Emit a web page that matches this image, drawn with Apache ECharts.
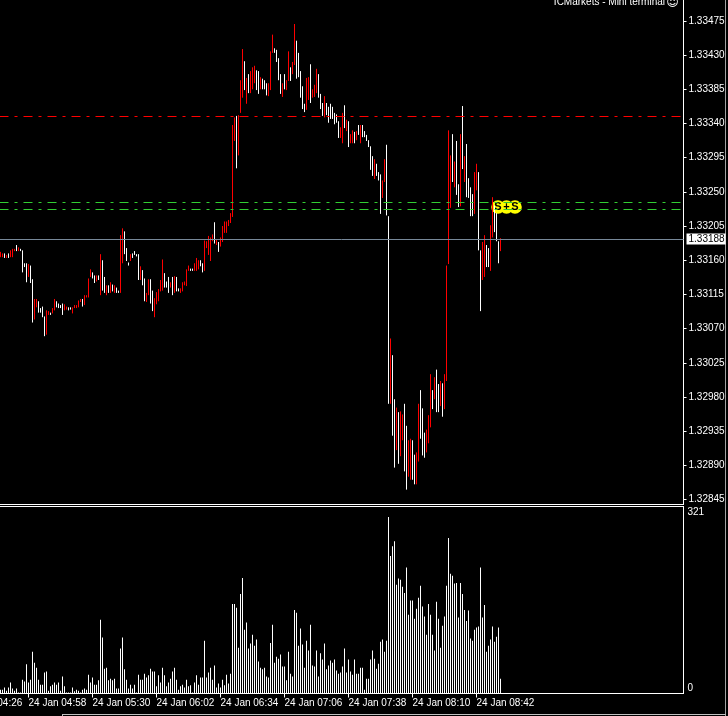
<!DOCTYPE html>
<html><head><meta charset="utf-8">
<script src="https://cdn.jsdelivr.net/npm/echarts@6/dist/echarts.min.js"></script>
<style>html,body{margin:0;padding:0;background:#000;overflow:hidden}#c{width:728px;height:716px}</style>
</head><body><div id="c"></div>
<script>
// ---- data ----
const firstBarTime = [4, 44];       // 24 Jan 04:44, one bar per minute
const slotCount = 342;              // minute slots shown across the chart
const datePrefix = '24 Jan ';
const timeTicks = ['04:58','05:30','06:02','06:34','07:06','07:38','08:10','08:42'];
const hiddenTick = '04:26';
const highs = [
1.33171,1.33169,1.33169,1.33167,1.33169,1.33173,1.33175,1.33175,1.33180,1.33177,
1.33175,1.33173,1.33156,1.33156,1.33155,1.33153,1.33135,1.33109,1.33109,1.33106,
1.33097,1.33099,1.33086,1.33094,1.33093,1.33091,1.33097,1.33109,1.33106,1.33103,
1.33101,1.33103,1.33102,1.33099,1.33098,1.33098,1.33098,1.33101,1.33101,1.33107,
1.33109,1.33109,1.33114,1.33114,1.33136,1.33148,1.33144,1.33140,1.33140,1.33140,
1.33168,1.33160,1.33138,1.33127,1.33127,1.33131,1.33128,1.33127,1.33124,1.33120,
1.33193,1.33202,1.33198,1.33176,1.33157,1.33168,1.33169,1.33172,1.33168,1.33168,
1.33152,1.33147,1.33136,1.33117,1.33135,1.33135,1.33120,1.33110,1.33118,1.33122,
1.33134,1.33161,1.33143,1.33132,1.33138,1.33131,1.33138,1.33139,1.33138,1.33123,
1.33123,1.33131,1.33132,1.33148,1.33153,1.33149,1.33149,1.33156,1.33163,1.33160,
1.33160,1.33156,1.33186,1.33185,1.33192,1.33190,1.33194,1.33210,1.33188,1.33184,
1.33190,1.33205,1.33211,1.33211,1.33213,1.33222,1.33338,1.33348,1.33350,1.33351,
1.33397,1.33438,1.33422,1.33400,1.33405,1.33409,1.33414,1.33416,1.33410,1.33409,
1.33401,1.33399,1.33397,1.33393,1.33393,1.33435,1.33457,1.33439,1.33437,1.33426,
1.33405,1.33393,1.33405,1.33397,1.33435,1.33414,1.33421,1.33471,1.33449,1.33433,
1.33409,1.33389,1.33366,1.33400,1.33401,1.33418,1.33385,1.33391,1.33412,1.33405,
1.33379,1.33367,1.33376,1.33367,1.33362,1.33366,1.33362,1.33354,1.33352,1.33343,
1.33335,1.33354,1.33364,1.33345,1.33343,1.33326,1.33331,1.33329,1.33330,1.33338,
1.33338,1.33338,1.33330,1.33325,1.33318,1.33310,1.33297,1.33293,1.33287,1.33276,
1.33273,1.33265,1.33293,1.33312,1.33218,1.33057,1.33035,1.32977,1.32966,1.32960,
1.32961,1.32957,1.32971,1.32942,1.32923,1.32925,1.32923,1.32904,1.32907,1.32971,
1.32989,1.32965,1.32933,1.32937,1.32956,1.33010,1.32989,1.33006,1.33016,1.32997,
1.33001,1.32998,1.33010,1.33153,1.33331,1.33298,1.33326,1.33290,1.33317,1.33260,
1.33326,1.33363,1.33297,1.33313,1.33268,1.33256,1.33247,1.33276,1.33287,1.33276,
1.33173,1.33184,1.33193,1.33180,1.33176,1.33206,1.33243,1.33232,1.33222,1.33185,
1.33189];
const lows = [
1.33164,1.33164,1.33163,1.33163,1.33163,1.33164,1.33164,1.33172,1.33172,1.33172,
1.33172,1.33144,1.33151,1.33131,1.33138,1.33130,1.33078,1.33082,1.33098,1.33091,
1.33091,1.33085,1.33060,1.33062,1.33088,1.33088,1.33090,1.33094,1.33098,1.33097,
1.33097,1.33088,1.33094,1.33095,1.33094,1.33095,1.33090,1.33097,1.33097,1.33098,
1.33105,1.33099,1.33101,1.33111,1.33111,1.33138,1.33136,1.33130,1.33132,1.33134,
1.33114,1.33120,1.33117,1.33114,1.33117,1.33117,1.33119,1.33117,1.33117,1.33117,
1.33117,1.33156,1.33168,1.33159,1.33153,1.33159,1.33163,1.33167,1.33165,1.33134,
1.33134,1.33127,1.33106,1.33105,1.33114,1.33103,1.33093,1.33085,1.33102,1.33106,
1.33119,1.33120,1.33124,1.33124,1.33117,1.33124,1.33114,1.33117,1.33119,1.33119,
1.33117,1.33119,1.33127,1.33126,1.33146,1.33146,1.33146,1.33146,1.33146,1.33148,
1.33152,1.33144,1.33146,1.33176,1.33167,1.33159,1.33185,1.33182,1.33180,1.33171,
1.33178,1.33184,1.33196,1.33196,1.33205,1.33209,1.33217,1.33317,1.33281,1.33298,
1.33354,1.33374,1.33384,1.33366,1.33380,1.33380,1.33385,1.33393,1.33384,1.33379,
1.33385,1.33385,1.33385,1.33377,1.33376,1.33384,1.33433,1.33433,1.33421,1.33397,
1.33379,1.33375,1.33385,1.33384,1.33396,1.33396,1.33405,1.33417,1.33399,1.33401,
1.33374,1.33359,1.33355,1.33358,1.33371,1.33367,1.33374,1.33375,1.33380,1.33374,
1.33359,1.33350,1.33348,1.33351,1.33341,1.33346,1.33346,1.33339,1.33341,1.33321,
1.33321,1.33314,1.33334,1.33330,1.33309,1.33314,1.33314,1.33314,1.33318,1.33325,
1.33314,1.33322,1.33322,1.33317,1.33309,1.33279,1.33271,1.33267,1.33271,1.33265,
1.33221,1.33242,1.33263,1.33219,1.32971,1.32971,1.32929,1.32887,1.32910,1.32892,
1.32902,1.32923,1.32882,1.32858,1.32875,1.32871,1.32871,1.32865,1.32865,1.32895,
1.32925,1.32903,1.32900,1.32907,1.32919,1.32940,1.32964,1.32977,1.32960,1.32960,
1.32968,1.32954,1.32964,1.33001,1.33155,1.33229,1.33263,1.33256,1.33246,1.33230,
1.33231,1.33280,1.33263,1.33243,1.33242,1.33218,1.33218,1.33221,1.33252,1.33173,
1.33093,1.33134,1.33138,1.33151,1.33151,1.33146,1.33190,1.33197,1.33185,1.33156,
1.33172];
// r = rising bar (drawn red), w = falling bar (drawn white)
const directions =
 'rrwrwrrrwr'+'wwwwrwwrrw'+'wwwrrwrrww'+'wwrrwwrrrr'+'rwrrrrwwrw'+
 'rwwrwrwrww'+'rrwwwrwwww'+'rwwrrwwrrr'+'rrwwwrwrww'+'rrrrrwwrrr'+
 'wwrrrrrwrw'+'rrrrrrrrwr'+'rrwrwrrrww'+'rwwwrrrwww'+'wrwrrwrrww'+
 'wwwrrwrrrw'+'wwrwwwwwww'+'rrwrwrrwrw'+'rwwwwwwrww'+'wrrwwrwwrw'+
 'rrwwrrwwrr'+'wwwrrrwrww'+'rwrrrrwrww'+'rwrwwwwrrw'+'wrrwwrrwww'+'r';
const volumes = [
7,7,11,5,11,20,9,5,9,2, 2,25,22,53,20,25,76,56,47,25,
16,16,38,40,5,13,16,20,16,20, 5,31,13,2,2,2,11,4,7,5,
2,7,9,7,34,20,29,16,16,24, 134,102,45,47,24,27,24,27,9,9,
82,102,44,25,9,16,9,16,2,34, 25,25,36,29,33,45,40,40,13,33,
20,47,33,13,20,27,40,47,25,7, 13,16,11,25,13,15,2,20,33,16,
29,29,96,29,38,47,25,51,11,18, 11,25,15,34,18,36,163,163,156,83,
181,210,116,129,82,91,107,87,98,58, 47,44,47,31,29,92,125,56,67,63,
71,49,49,24,76,36,31,152,147,87, 118,89,47,96,78,125,51,49,78,31,
73,62,91,44,51,60,56,62,42,36, 38,49,82,38,62,40,34,62,36,36,
47,47,7,27,27,62,78,63,45,54, 94,98,76,96,321,250,268,277,198,209,
207,194,183,229,143,169,169,136,154,174, 196,158,140,107,163,143,107,78,167,136,
83,123,140,196,283,218,214,200,201,138, 201,181,152,132,151,100,96,116,120,122,
229,138,161,76,87,98,122,94,103,120, 27];
const priceTicks = [1.32845,1.32890,1.32935,1.32980,1.33025,1.33070,1.33115,1.33160,
  1.33205,1.33250,1.33295,1.33340,1.33385,1.33430,1.33475];
const priceRange = [1.328404, 1.335026];
const volumeMax = 321;
const redLevel = 1.33349;
const greenLevels = [1.33236, 1.33227];
const bidPrice = 1.33188;
const signalText = ['S','+','S'];
const signalAt = [253, 1.33230];
const titleText = 'ICMarkets - Mini terminal';

// ---- build ----
const cats = [];
for (let i = 0; i < slotCount; i++) {
  const m = firstBarTime[0] * 60 + firstBarTime[1] + i;
  cats.push(String(Math.floor(m / 60)).padStart(2, '0') + ':' + String(m % 60).padStart(2, '0'));
}
const candles = highs.map((h, i) => directions[i] === 'r' ? [lows[i], h, lows[i], h] : [h, lows[i], lows[i], h]);

const FONT = "'Liberation Sans',sans-serif";
const FS = 10;
const isTick = (idx, val) => timeTicks.indexOf(val) >= 0;
const dashDot = [9, 6, 3, 6];

const chart = echarts.init(document.getElementById('c'), null, {renderer: 'canvas'});
chart.setOption({
  backgroundColor: '#000',
  animation: false,
  grid: [
    {left: -0.5, width: 684, top: 0, height: 503, outerBoundsMode: 'none', containLabel: false},
    {left: -0.5, width: 684, top: 517, height: 176.5, outerBoundsMode: 'none', containLabel: false}
  ],
  xAxis: [
    {type: 'category', gridIndex: 0, data: cats, boundaryGap: true, show: false},
    {type: 'category', gridIndex: 1, data: cats, boundaryGap: true,
     axisLine: {show: false},
     axisTick: {show: true, interval: isTick, alignWithLabel: true, length: 4, lineStyle: {color: '#fff', width: 1}},
     axisLabel: {interval: isTick, formatter: v => datePrefix + v, color: '#fff', fontFamily: FONT, fontSize: FS,
                 align: 'left', margin: 5},
     splitLine: {show: false}}
  ],
  yAxis: [
    {type: 'value', gridIndex: 0, position: 'right', min: priceRange[0], max: priceRange[1], scale: true,
     splitLine: {show: false}, axisLine: {show: false},
     axisTick: {show: true, customValues: priceTicks, length: 3, lineStyle: {color: '#fff'}},
     axisLabel: {customValues: priceTicks, formatter: v => v.toFixed(5), color: '#fff', fontFamily: FONT, fontSize: FS, margin: 5}},
    {type: 'value', gridIndex: 1, position: 'right', min: 0, max: volumeMax, interval: volumeMax,
     splitLine: {show: false}, axisLine: {show: false}, axisTick: {show: false},
     axisLabel: {color: '#fff', fontFamily: FONT, fontSize: FS, margin: 4, verticalAlign: 'bottom'}}
  ],
  series: [
    {type: 'candlestick', xAxisIndex: 0, yAxisIndex: 0, data: candles, barWidth: 1,
     itemStyle: {color: '#ff0000', color0: '#ffffff', borderColor: '#ff0000', borderColor0: '#ffffff', borderWidth: 1},
     emphasis: {disabled: true},
     markLine: {
       silent: true, symbol: ['none', 'none'], animation: false, precision: 5,
       label: {show: false},
       emphasis: {disabled: true},
       data: [
         {yAxis: redLevel, lineStyle: {color: '#ff0000', type: dashDot, width: 1}},
         {yAxis: greenLevels[0], lineStyle: {color: '#32cd32', type: dashDot, width: 1}},
         {yAxis: greenLevels[1], lineStyle: {color: '#32cd32', type: dashDot, width: 1}},
         {yAxis: bidPrice, lineStyle: {color: '#778899', type: 'solid', width: 1},
          label: {show: true, position: 'end', distance: 3, formatter: bidPrice.toFixed(5),
                  backgroundColor: '#fff', color: '#000', padding: [1, 1, 0, 2],
                  fontFamily: FONT, fontSize: FS}}
       ]
     }},
    {type: 'bar', xAxisIndex: 1, yAxisIndex: 1, data: volumes, barWidth: 1,
     itemStyle: {color: '#fff'}, emphasis: {disabled: true}}
  ]
});

// pane frames and annotations
const W = '#fff';
const line = (x1, y1, x2, y2, c) => ({type: 'line', silent: true, shape: {x1, y1, x2, y2}, style: {stroke: c || W, lineWidth: 1}});
const sig = chart.convertToPixel({gridIndex: 0}, signalAt);
const tick0 = chart.convertToPixel({xAxisIndex: 1}, cats.indexOf(timeTicks[0]));
const tickStep = chart.convertToPixel({xAxisIndex: 1}, cats.indexOf(timeTicks[1])) - tick0;
const offsets = [-8.5, 0, 8.5];
chart.setOption({
  graphic: [
    line(0, 504.5, 684, 504.5), line(683.5, 0, 683.5, 505),
    line(0, 506.5, 684, 506.5), line(683.5, 506, 683.5, 694), line(0, 693.5, 684, 693.5),
    line(725.5, 0, 725.5, 716, '#a0a0a0'), line(62, 714.5, 726, 714.5, '#c0c0c0'), line(62.5, 714, 62.5, 716, '#c0c0c0'),
    {type: 'text', silent: true, style: {x: tick0 - tickStep, y: 693.5 + 5, text: datePrefix + hiddenTick, fill: '#fff',
      font: FS + 'px ' + FONT, align: 'left', verticalAlign: 'top'}},
    {type: 'text', silent: true, style: {x: 665, y: 2, text: titleText, fill: '#fff', font: FS + 'px ' + FONT,
      align: 'right', verticalAlign: 'middle'}},
    {type: 'text', silent: true, style: {x: 672.5, y: 2.5, text: '\u263A', fill: '#fff', font: '12px DejaVu Sans',
      align: 'center', verticalAlign: 'middle'}},
    ...offsets.map(d => ({type: 'circle', silent: true, shape: {cx: sig[0] + d, cy: sig[1], r: 6.8}, style: {fill: '#ffff00'}})),
    ...offsets.map((d, k) => ({type: 'text', silent: true, style: {x: sig[0] + d, y: sig[1], text: signalText[k], fill: '#000',
      font: 'bold 11px Liberation Sans', align: 'center', verticalAlign: 'middle'}}))
  ]
});
</script>
</body></html>
